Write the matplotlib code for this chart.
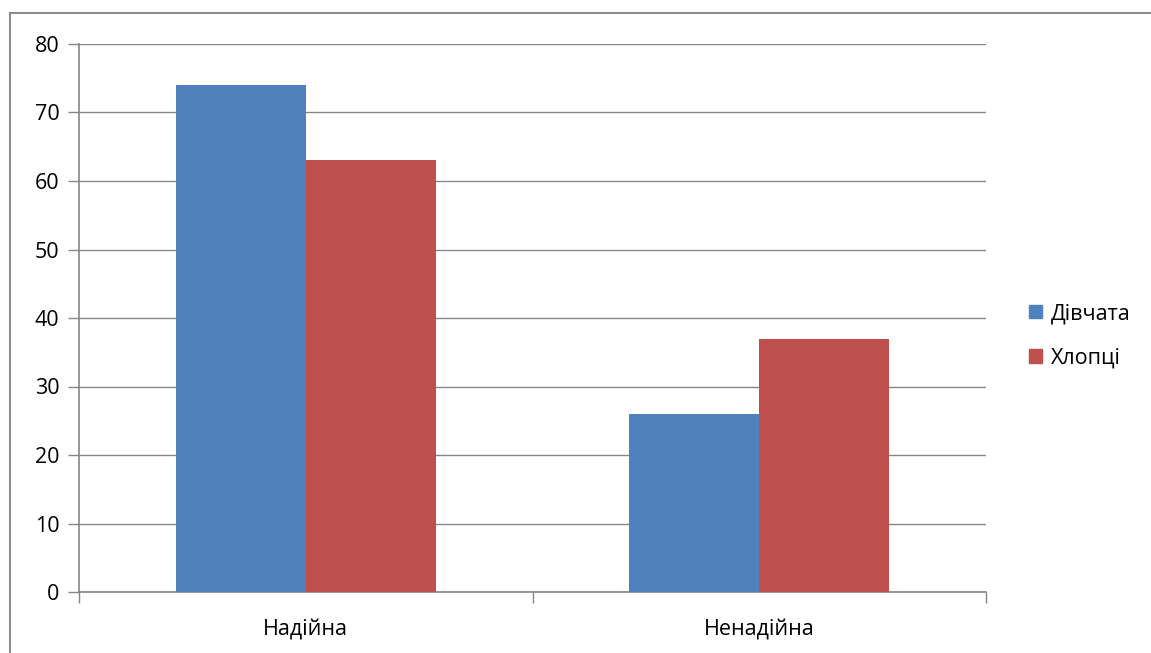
import numpy as np
import matplotlib.pyplot as plt
from matplotlib.patches import Patch

plt.rcParams['font.family'] = ['Open Sans', 'DejaVu Sans']

categories = ["Надійна", "Ненадійна"]
series_names = ["Дівчата", "Хлопці"]
girls = [74, 26]
boys = [63, 37]
yticks = [0, 10, 20, 30, 40, 50, 60, 70, 80]

BLUE = "#4F81BD"
RED = "#C0504D"
GRID = "#868686"
FS = 15.5

fig = plt.figure(figsize=(11.51, 6.53), dpi=100)
ax = fig.add_axes([79 / 1151, 1 - 592 / 653, (986 - 79) / 1151, (592 - 44) / 653])

# outer chart frame (only left and top visible in the reference)
fig.add_artist(plt.Line2D([10 / 1151, 10 / 1151], [0, 1 - 13 / 653], color="#8c8c8c", lw=1.5))
fig.add_artist(plt.Line2D([10 / 1151, 1], [1 - 13 / 653, 1 - 13 / 653], color="#8c8c8c", lw=1.5))

x = np.arange(len(categories))
w = 0.287
ax.bar(x - w / 2, girls, w, color=BLUE, zorder=3)
ax.bar(x + w / 2, boys, w, color=RED, zorder=3)

ax.set_xlim(-0.5, 1.5)
ax.set_ylim(0, 80)
ax.set_yticks(yticks)
ax.set_yticklabels([str(v) for v in yticks], fontsize=FS)
ax.yaxis.grid(True, color=GRID, lw=1, zorder=0)

ax.set_xticks(x)
ax.set_xticklabels(categories, fontsize=FS)
ax.tick_params(axis="x", length=0, pad=20)
ax.set_xticks([-0.5, 0.5, 1.5], minor=True)
ax.tick_params(axis="x", which="minor", length=8, color=GRID, width=1)
ax.tick_params(axis="y", length=8, color=GRID, width=1, pad=6)

for s in ["top", "right"]:
    ax.spines[s].set_visible(False)
for s in ["left", "bottom"]:
    ax.spines[s].set_color(GRID)
    ax.spines[s].set_linewidth(1.2)

handles = [Patch(color=BLUE, label=series_names[0]), Patch(color=RED, label=series_names[1])]
fig.legend(handles=handles, loc="center left", bbox_to_anchor=(1010 / 1151, 1 - 336 / 653),
           frameon=False, fontsize=FS, handlelength=0.6, handleheight=0.6,
           handletextpad=0.4, labelspacing=1.1)

fig.savefig("out.png", dpi=100)
